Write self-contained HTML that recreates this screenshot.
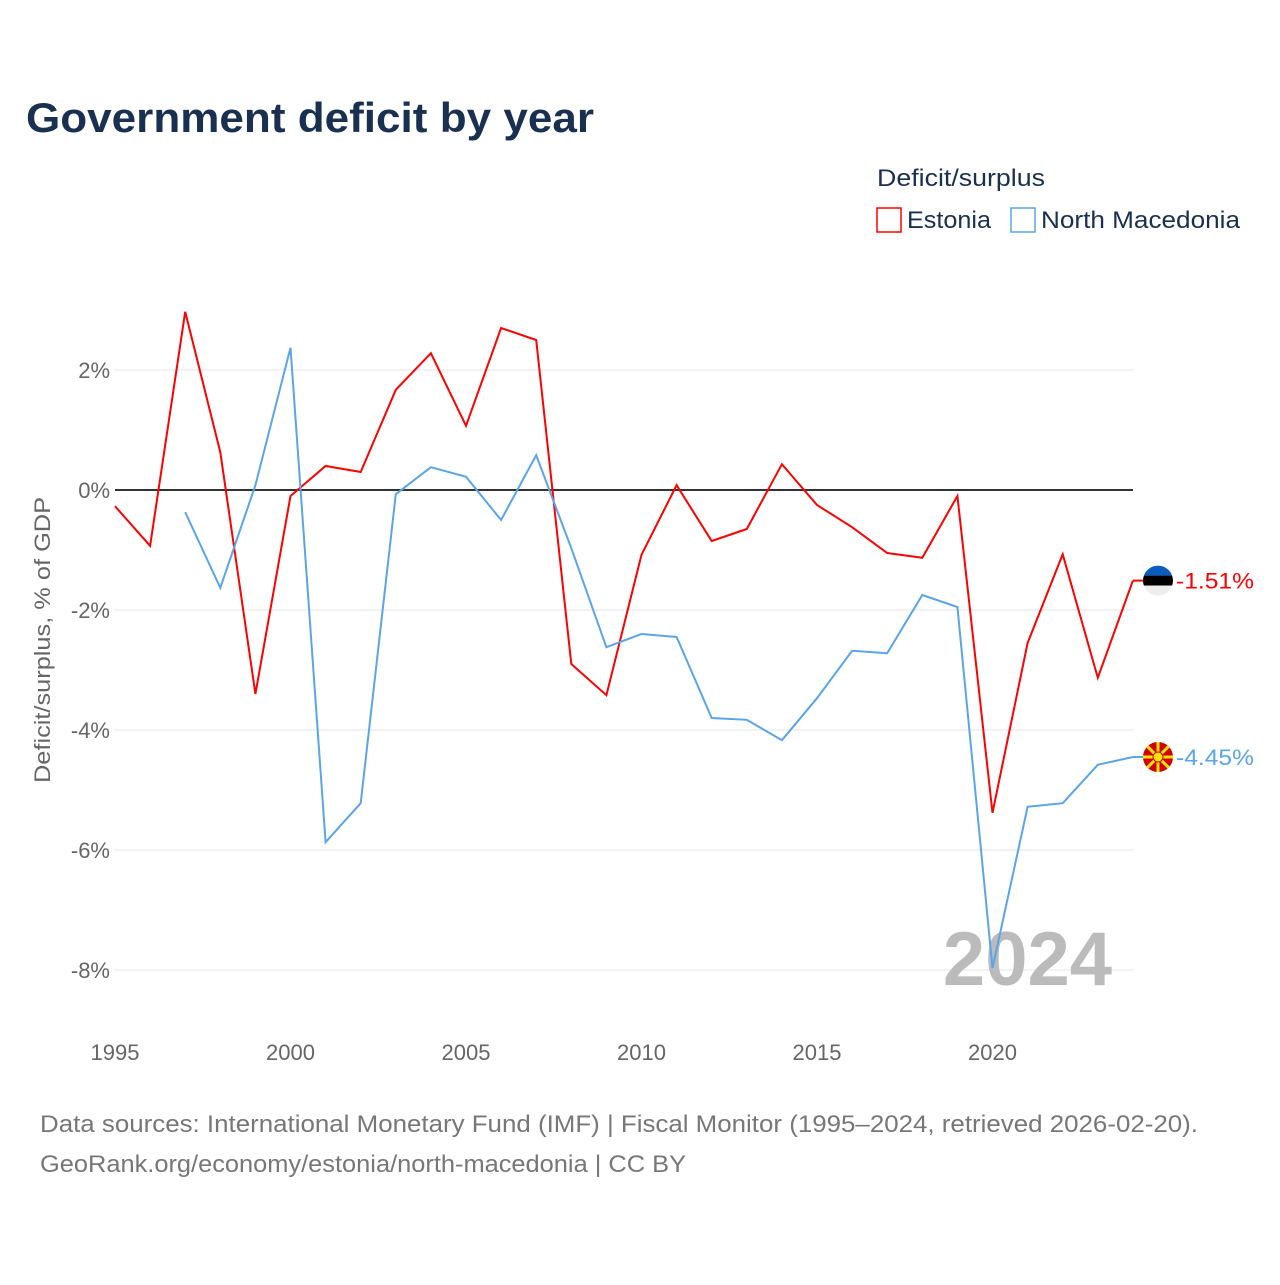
<!DOCTYPE html>
<html><head><meta charset="utf-8"><style>
body{margin:0;background:#fff;width:1280px;height:1280px;overflow:hidden;font-family:"Liberation Sans",sans-serif}
</style></head><body>
<svg width="1280" height="1280" font-family="Liberation Sans, sans-serif">
<text x="26" y="132" font-size="42" font-weight="bold" fill="#1a3050" textLength="568" lengthAdjust="spacingAndGlyphs">Government deficit by year</text>
<text x="877" y="186" font-size="24" fill="#1a3050" textLength="168" lengthAdjust="spacingAndGlyphs">Deficit/surplus</text>
<g><rect x="877" y="208" width="24" height="24" fill="none" stroke="#f00" stroke-width="1.5"/><text x="907" y="228" font-size="24" fill="#1a3050" textLength="84" lengthAdjust="spacingAndGlyphs">Estonia</text></g>
<g><rect x="1011" y="208" width="24" height="24" fill="none" stroke="#5aa5ea" stroke-width="1.5"/><text x="1041" y="228" font-size="24" fill="#1a3050" textLength="199" lengthAdjust="spacingAndGlyphs">North Macedonia</text></g>
<g id="grid"></g>
<text x="1112" y="985" font-size="76" font-weight="bold" fill="#bbb" text-anchor="end">2024</text>
<g id="series"></g>
<text transform="translate(50,640) rotate(-90)" font-size="22" fill="#666" text-anchor="middle" textLength="286" lengthAdjust="spacingAndGlyphs">Deficit/surplus, % of GDP</text>
<text x="40" y="1132" font-size="24" fill="#777" textLength="1158" lengthAdjust="spacingAndGlyphs">Data sources: International Monetary Fund (IMF) | Fiscal Monitor (1995–2024, retrieved 2026-02-20).</text>
<text x="40" y="1172" font-size="24" fill="#777" textLength="646" lengthAdjust="spacingAndGlyphs">GeoRank.org/economy/estonia/north-macedonia | CC BY</text>
</svg>
<script>
const years=[];for(let y=1995;y<=2024;y++)years.push(y);
const estonia=[-0.27,-0.93,2.97,0.63,-3.4,-0.1,0.4,0.3,1.67,2.28,1.07,2.7,2.5,-2.9,-3.42,-1.08,0.08,-0.85,-0.65,0.43,-0.25,-0.62,-1.05,-1.13,-0.1,-5.38,-2.55,-1.07,-3.13,-1.51];
const macedonia=[null,null,-0.37,-1.63,0.08,2.37,-5.87,-5.22,-0.07,0.38,0.22,-0.5,0.58,-0.97,-2.62,-2.4,-2.45,-3.8,-3.83,-4.17,-3.47,-2.68,-2.72,-1.75,-1.95,-7.97,-5.28,-5.22,-4.58,-4.45];
const yTicks=[2,0,-2,-4,-6,-8];
const xTicks=[1995,2000,2005,2010,2015,2020];
const NS="http://www.w3.org/2000/svg";
const X=y=>115+(y-1995)*35.1, Y=v=>490-v*60;
function mk(t,a,p){const e=document.createElementNS(NS,t);for(const k in a)e.setAttribute(k,a[k]);p.appendChild(e);return e;}
const g=document.getElementById('grid');
yTicks.forEach(v=>{
 const l=mk('line',{x1:115,x2:1133,y1:Y(v),y2:Y(v),stroke:v===0?'#333':'#e6e6e6','stroke-width':v===0?2:1},g);
 
 
 const t=mk('text',{x:110,y:Y(v)+8,'font-size':22,fill:'#666','text-anchor':'end'},g);t.textContent=v+'%';
 
 
});
xTicks.forEach(y=>{
 const t=mk('text',{x:X(y),y:1060,'font-size':22,fill:'#666','text-anchor':'middle'},g);t.textContent=y;
 
 
});
const s=document.getElementById('series');
function line(vals,col,name){
 const pts=vals.map((v,i)=>v===null?null:X(years[i]).toFixed(1)+','+Y(v).toFixed(1)).filter(p=>p);
 const p=mk('polyline',{points:pts.join(' '),fill:'none',stroke:col,'stroke-width':2},s);
 
 
 const last=vals[vals.length-1];
 const yy=Y(last);
 mk('line',{x1:1133,x2:1145,y1:yy,y2:yy,stroke:col,'stroke-width':2},s);
 const t=mk('text',{x:1176,y:yy+8,'font-size':22,fill:col,textLength:78,lengthAdjust:'spacingAndGlyphs'},s);t.textContent=last.toFixed(2)+'%';
 
 
 return yy;
}
const ye=line(estonia,'#f00','estonia-line');
const ym=line(macedonia,'#5aa5ea','north-macedonia-line');
const fe=mk('g',{},s);


mk('clipPath',{id:'c1'},fe);mk('circle',{cx:1158,cy:ye,r:15},fe.lastChild);
mk('rect',{x:1143,y:ye-15,width:30,height:10,fill:'#0a5cbf','clip-path':'url(#c1)'},fe);
mk('rect',{x:1143,y:ye-5,width:30,height:10,fill:'#000','clip-path':'url(#c1)'},fe);
mk('rect',{x:1143,y:ye+5,width:30,height:10,fill:'#eee','clip-path':'url(#c1)'},fe);
const fm=mk('g',{},s);


mk('circle',{cx:1158,cy:ym,r:15,fill:'#d20000'},fm);
for(let a=0;a<8;a++){const r=a*Math.PI/4;mk('line',{x1:1158,y1:ym,x2:1158+15*Math.cos(r),y2:ym+15*Math.sin(r),stroke:'#ffe600','stroke-width':3},fm);}
mk('circle',{cx:1158,cy:ym,r:5,fill:'#ffe600',stroke:'#d20000','stroke-width':1},fm);
</script>
</body></html>
